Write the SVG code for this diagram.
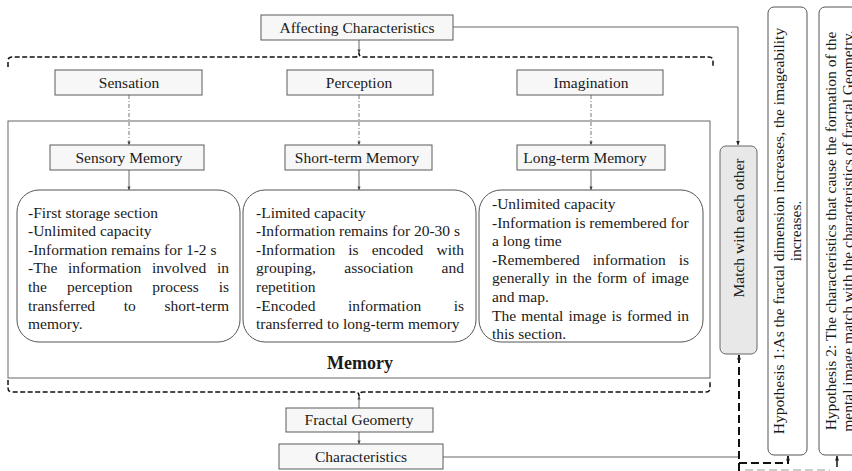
<svg xmlns="http://www.w3.org/2000/svg" width="852" height="471" viewBox="0 0 852 471">
<defs>
<marker id="ah" viewBox="0 0 10 10" refX="9" refY="5" markerWidth="5" markerHeight="5" orient="auto-start-reverse" markerUnits="userSpaceOnUse">
<path d="M0,1 L10,5 L0,9 Z" fill="#222"/>
</marker>
<marker id="ahs" viewBox="0 0 10 10" refX="9" refY="5" markerWidth="4" markerHeight="4" orient="auto-start-reverse" markerUnits="userSpaceOnUse">
<path d="M0,1 L10,5 L0,9 Z" fill="#444"/>
</marker>
<style>
text{font-family:"Liberation Serif","Times New Roman",serif;font-size:15.5px;fill:#1a1a1a}
.c{text-anchor:middle}
.e{text-anchor:end}
.node{fill:#f7f7f7;stroke:#5a5a5a;stroke-width:1}
.rb{fill:#fff;stroke:#555;stroke-width:1}
.solid{fill:none;stroke:#666;stroke-width:1}
.dd{fill:none;stroke:#777;stroke-width:1;stroke-dasharray:4 2 1 2}
.br{fill:none;stroke:#111;stroke-width:1.5;stroke-dasharray:5 2.5}
.thick{fill:none;stroke:#111;stroke-width:2;stroke-dasharray:8 4}
</style>
</defs>

<g id="connectors">
<path class="solid" d="M453,27 H738 V145" marker-end="url(#ah)"/>
<path class="solid" d="M359,40 V53" marker-end="url(#ahs)"/>
<path class="br" d="M8,67 V61 Q8,57 12,57 H355 Q359,57 359,53 Q359,57 363,57 H709 Q713,57 713,61 V67"/>
<path class="dd" d="M129,95 V145" marker-end="url(#ahs)"/>
<path class="dd" d="M359,95 V145" marker-end="url(#ahs)"/>
<path class="dd" d="M591,95 V145" marker-end="url(#ahs)"/>
<path class="solid" d="M129,170 V190" marker-end="url(#ahs)"/>
<path class="solid" d="M359,170 V190" marker-end="url(#ahs)"/>
<path class="solid" d="M591,170 V190" marker-end="url(#ahs)"/>
<path class="br" d="M8,380 V388 Q8,392 12,392 H355 Q359,392 359,396 Q359,392 363,392 H706 Q710,392 710,388 V382"/>
<path class="solid" d="M359,408 V396" marker-end="url(#ahs)"/>
<path class="solid" d="M359,432 V444" marker-end="url(#ahs)"/>
<path class="solid" d="M443,457 H738"/>
<path class="thick" d="M739,471 V355" marker-end="url(#ah)"/>
<path class="thick" d="M739,463 H788 V456" marker-end="url(#ah)"/>
<path fill="none" stroke="#111" stroke-width="1.5" d="M837,467 V456" marker-end="url(#ah)"/>
<path fill="none" stroke="#ccc" stroke-width="2" stroke-dasharray="8 4" d="M745,470 H830"/>
</g>

<g id="affecting">
<rect class="node" x="261" y="15" width="192" height="25"/>
<text class="c" x="357" y="33">Affecting Characteristics</text>
</g>
<g id="sensation">
<rect class="node" x="55" y="70" width="147" height="25"/>
<text class="c" x="129" y="88">Sensation</text>
</g>
<g id="perception">
<rect class="node" x="287" y="70" width="146" height="25"/>
<text class="c" x="359" y="88">Perception</text>
</g>
<g id="imagination">
<rect class="node" x="517" y="70" width="146" height="25"/>
<text class="c" x="591" y="88">Imagination</text>
</g>

<g id="memory">
<rect fill="none" stroke="#666" stroke-width="1" x="8" y="121" width="702" height="257"/>
<text class="c" x="360" y="369" style="font-weight:bold;font-size:18px">Memory</text>
</g>

<g id="sensory-memory">
<rect class="node" x="50" y="145" width="154" height="25"/>
<text class="c" x="129" y="163">Sensory Memory</text>
</g>
<g id="short-term-memory">
<rect class="node" x="285" y="145" width="147" height="25"/>
<text class="c" x="357" y="163">Short-term Memory</text>
</g>
<g id="long-term-memory">
<rect class="node" x="517" y="145" width="148" height="25"/>
<text class="c" x="585" y="163">Long-term Memory</text>
</g>

<g id="sensory-box">
<rect class="rb" x="17" y="190" width="223" height="152" rx="22"/>
<text x="28" y="217.5">-First storage section</text>
<text x="28" y="236.1">-Unlimited capacity</text>
<text x="28" y="254.7">-Information remains for 1-2 s</text>
<text y="273.3"><tspan x="28">-The</tspan><tspan x="68">information</tspan><tspan x="152">involved</tspan><tspan x="229" class="e">in</tspan></text>
<text y="291.9"><tspan x="28">the</tspan><tspan x="67">perception</tspan><tspan x="152.3">process</tspan><tspan x="229" class="e">is</tspan></text>
<text y="310.5"><tspan x="28">transferred</tspan><tspan x="123.7">to</tspan><tspan x="229" class="e">short-term</tspan></text>
<text x="28" y="329.1">memory.</text>
</g>

<g id="short-term-box">
<rect class="rb" x="243" y="190" width="233" height="152" rx="22"/>
<text x="256" y="217.5">-Limited capacity</text>
<text x="256" y="236.1">-Information remains for 20-30 s</text>
<text y="254.7"><tspan x="256">-Information</tspan><tspan x="348.3">is</tspan><tspan x="371.7">encoded</tspan><tspan x="464" class="e">with</tspan></text>
<text y="273.3"><tspan x="256">grouping,</tspan><tspan x="344.3">association</tspan><tspan x="464" class="e">and</tspan></text>
<text x="256" y="291.9">repetition</text>
<text y="310.5"><tspan x="256">-Encoded</tspan><tspan x="348">information</tspan><tspan x="464" class="e">is</tspan></text>
<text x="256" y="329.1">transferred to long-term memory</text>
</g>

<g id="long-term-box">
<rect class="rb" x="479" y="190" width="224" height="152" rx="22"/>
<text x="492" y="209">-Unlimited capacity</text>
<text x="492" y="227.6">-Information is remembered for</text>
<text x="492" y="246.2">a long time</text>
<text y="264.8"><tspan x="492">-Remembered</tspan><tspan x="592.7">information</tspan><tspan x="689" class="e">is</tspan></text>
<text y="283.4"><tspan x="492">generally</tspan><tspan x="555.2">in</tspan><tspan x="572.7">the</tspan><tspan x="597.1">form</tspan><tspan x="632.7">of</tspan><tspan x="689" class="e">image</tspan></text>
<text x="492" y="302">and map.</text>
<text y="320.6"><tspan x="492">The</tspan><tspan x="521.2">mental</tspan><tspan x="568.5">image</tspan><tspan x="611.5">is</tspan><tspan x="626.9">formed</tspan><tspan x="689" class="e">in</tspan></text>
<text x="492" y="339.2">this section.</text>
</g>

<g id="fractal-geometry">
<rect class="node" x="286" y="408" width="147" height="24"/>
<text class="c" x="359" y="425">Fractal Geomerty</text>
</g>
<g id="characteristics">
<rect class="node" x="279" y="444" width="164" height="25"/>
<text class="c" x="361" y="462">Characteristics</text>
</g>

<g id="match">
<rect x="720" y="146" width="37" height="208" rx="6" fill="#e8e8e8" stroke="#666" stroke-width="1"/>
<text class="c" transform="translate(744,228) rotate(-90)" x="0" y="0">Match with each other</text>
</g>
<g id="hypothesis-1">
<rect class="rb" x="768" y="7" width="39" height="448" rx="6" stroke="#666"/>
<g transform="translate(0,231) rotate(-90)">
<text class="c" x="0" y="784">Hypothesis 1:As the fractal dimension increases, the imageability</text>
<text class="c" x="0" y="801">increases.</text>
</g>
</g>
<g id="hypothesis-2">
<rect class="rb" x="819" y="7" width="45" height="448" rx="6" stroke="#666"/>
<g transform="translate(0,231) rotate(-90)">
<text class="c" x="0" y="836">Hypothesis 2: The characteristics that cause the formation of the</text>
<text class="c" x="0" y="853">mental image match with the characteristics of fractal Geometry.</text>
</g>
</g>
</svg>
